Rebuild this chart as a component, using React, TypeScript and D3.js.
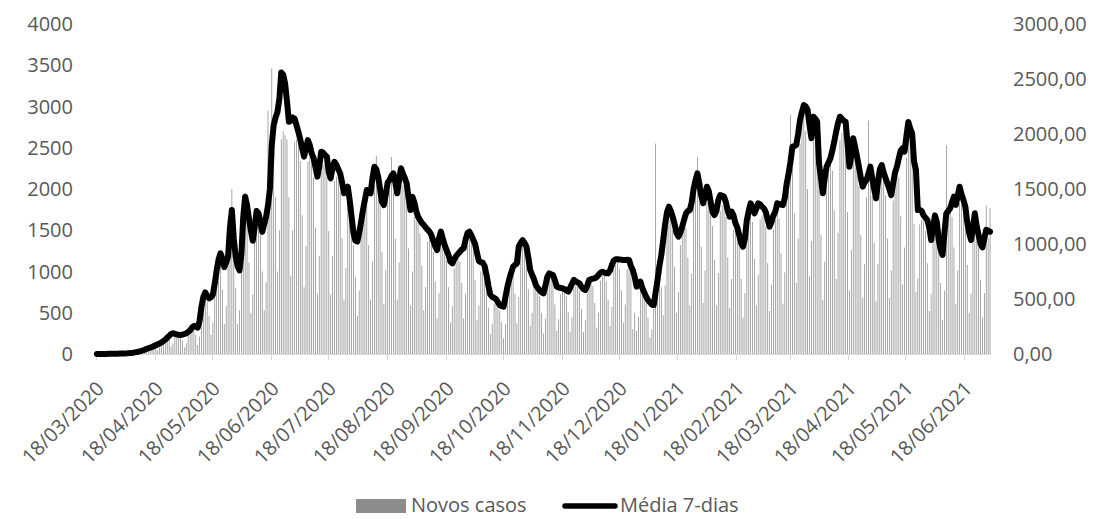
import React from "react";
import * as d3 from "d3";

// Daily series, one value per day starting on the first date below
const START_DATE = new Date(2020, 2, 18);

const newCases = [
  0, 1, 1, 2, 0, 1, 3, 3, 4, 2,
  2, 1, 3, 5, 6, 8, 5, 4, 9, 15,
  18, 22, 29, 31, 29, 17, 32, 62, 72, 83,
  110, 90, 45, 80, 150, 190, 230, 210, 170, 90,
  130, 220, 230, 230, 210, 160, 80, 130, 240, 270,
  310, 300, 230, 110, 210, 520, 650, 730, 640, 460,
  230, 380, 770, 950, 1120, 1100, 780, 360, 580, 1060,
  1440, 2000, 1260, 800, 360, 530, 1080, 1560, 1950, 1620,
  1110, 500, 720, 1380, 1630, 1660, 1440, 1000, 530, 870,
  2950, 1800, 3460, 2500, 1900, 1000, 1500, 2600, 2700, 2650,
  2600, 1900, 950, 1500, 2570, 2600, 2630, 2340, 1680, 810,
  1310, 2330, 2380, 2370, 2140, 1530, 730, 1190, 2210, 2290,
  2350, 2150, 1490, 720, 1190, 2100, 2150, 2180, 1970, 1400,
  660, 1040, 1830, 1750, 1630, 1320, 930, 460, 770, 1440,
  1640, 1820, 1790, 1320, 660, 1120, 2040, 2400, 2100, 1800,
  1240, 610, 1020, 1870, 1980, 2390, 1970, 1400, 660, 1110,
  2030, 2050, 2080, 1860, 1280, 590, 1000, 1660, 1630, 1620,
  1460, 1070, 530, 810, 1360, 1390, 1400, 1240, 880, 430,
  740, 1330, 1310, 1290, 1130, 810, 380, 580, 1030, 1110,
  1180, 1120, 860, 430, 730, 1320, 1390, 1400, 1250, 900,
  410, 590, 1000, 1040, 1040, 860, 560, 240, 360, 610,
  630, 610, 530, 390, 190, 360, 730, 850, 960, 950,
  730, 370, 690, 1210, 1300, 1310, 1170, 790, 340, 500,
  820, 780, 780, 700, 500, 250, 430, 840, 920, 940,
  860, 600, 280, 420, 720, 750, 770, 700, 510, 270,
  450, 810, 830, 850, 770, 550, 270, 410, 740, 840,
  880, 820, 620, 320, 500, 890, 940, 960, 880, 660,
  340, 570, 1020, 1080, 1120, 1030, 770, 380, 600, 1030,
  1070, 1040, 300, 500, 280, 450, 790, 750, 730, 620,
  440, 200, 300, 550, 2550, 880, 960, 810, 470, 830,
  1550, 1670, 1690, 1500, 1060, 500, 750, 1320, 1450, 1590,
  1530, 1170, 590, 970, 1800, 1980, 2390, 1860, 1300, 620,
  1010, 1830, 1850, 1790, 1550, 1140, 590, 980, 1730, 1800,
  1860, 1660, 1170, 560, 910, 1510, 1490, 1500, 1300, 910,
  440, 740, 1460, 1630, 1780, 1600, 1150, 590, 960, 1630,
  1680, 1720, 1550, 1100, 520, 840, 1510, 1620, 1780, 1640,
  1220, 610, 990, 1860, 2050, 2900, 2260, 1700, 860, 1400,
  2550, 2750, 2900, 2700, 2000, 940, 1370, 2590, 2680, 2750,
  2080, 1440, 660, 1120, 2040, 2180, 2310, 2220, 1740, 910,
  1470, 2590, 2680, 2760, 2530, 1720, 770, 1260, 2350, 2350,
  2330, 2040, 1440, 680, 1090, 1900, 2830, 2210, 1920, 1350,
  640, 1090, 2020, 2150, 2150, 1920, 1400, 680, 1010, 1860,
  2060, 2210, 2140, 1670, 840, 1290, 2380, 2640, 2670, 2410,
  1580, 750, 920, 1570, 1630, 1640, 1490, 1100, 520, 730,
  1380, 1580, 1560, 1240, 860, 410, 770, 2530, 1630, 1720,
  1660, 1290, 610, 1010, 1830, 1810, 1820, 1610, 1080, 500,
  730, 1380, 1600, 1500, 1300, 900, 440, 740, 1800, 1400,
  1770,
];

const avg7 = [
  0, 0, 0, 1, 1, 1, 2, 2, 2, 3,
  3, 3, 4, 4, 5, 5, 6, 8, 10, 12,
  15, 18, 22, 26, 32, 38, 45, 52, 58, 64,
  72, 80, 88, 96, 106, 118, 132, 148, 165, 182,
  188, 184, 178, 174, 173, 176, 182, 188, 200, 215,
  240, 255, 250, 240, 300, 430, 520, 560, 530, 506,
  515, 540, 640, 760, 860, 915, 870, 790, 830, 885,
  1150, 1309, 1050, 885, 800, 760, 900, 1250, 1430, 1350,
  1230, 1120, 1030, 1150, 1300, 1280, 1200, 1110, 1180, 1248,
  1350, 1500, 1900, 2080, 2150, 2200, 2320, 2560, 2540, 2460,
  2300, 2112, 2120, 2150, 2140, 2080, 2020, 1950, 1870, 1794,
  1870, 1945, 1900, 1824, 1780, 1700, 1612, 1700, 1839, 1830,
  1810, 1794, 1650, 1597, 1700, 1748, 1720, 1680, 1642, 1560,
  1461, 1480, 1521, 1400, 1250, 1100, 1030, 1021, 1100, 1200,
  1309, 1400, 1491, 1470, 1461, 1600, 1703, 1680, 1612, 1500,
  1380, 1354, 1450, 1560, 1582, 1620, 1642, 1560, 1461, 1580,
  1688, 1640, 1600, 1551, 1420, 1309, 1430, 1380, 1300, 1248,
  1220, 1190, 1173, 1150, 1130, 1112, 1080, 1030, 980, 945,
  1050, 1112, 1050, 990, 945, 900, 840, 824, 860, 890,
  910, 930, 950, 961, 1040, 1100, 1112, 1080, 1040, 1000,
  920, 845, 835, 830, 800, 720, 620, 540, 520, 510,
  500, 470, 445, 435, 430, 520, 612, 680, 740, 794,
  810, 824, 980, 1010, 1036, 1010, 976, 880, 764, 720,
  680, 627, 600, 580, 560, 551, 620, 700, 733, 725,
  718, 670, 612, 605, 600, 597, 590, 580, 567, 600,
  640, 673, 660, 650, 642, 610, 590, 582, 620, 673,
  680, 685, 688, 700, 720, 740, 748, 740, 735, 733,
  760, 810, 850, 861, 862, 860, 858, 855, 855, 856,
  855, 800, 764, 700, 612, 640, 657, 600, 560, 521,
  490, 470, 450, 445, 560, 673, 800, 900, 1036, 1180,
  1290, 1339, 1300, 1248, 1180, 1100, 1066, 1100, 1157, 1220,
  1279, 1300, 1309, 1380, 1500, 1580, 1642, 1550, 1440, 1370,
  1440, 1521, 1480, 1380, 1290, 1263, 1300, 1400, 1445, 1440,
  1430, 1380, 1300, 1248, 1294, 1260, 1188, 1150, 1080, 1006,
  976, 1050, 1218, 1300, 1370, 1330, 1279, 1320, 1370, 1360,
  1340, 1324, 1290, 1220, 1157, 1200, 1260, 1294, 1370, 1365,
  1358, 1354, 1420, 1550, 1642, 1750, 1885, 1890, 1900, 2000,
  2127, 2200, 2263, 2250, 2218, 2080, 1961, 2157, 2140, 2112,
  1733, 1600, 1461, 1600, 1703, 1740, 1779, 1850, 1930, 2020,
  2100, 2157, 2140, 2120, 2112, 1915, 1703, 1800, 1961, 1880,
  1794, 1700, 1600, 1521, 1560, 1582, 1640, 1703, 1600, 1500,
  1415, 1560, 1680, 1718, 1650, 1600, 1551, 1500, 1445, 1550,
  1650, 1703, 1780, 1850, 1870, 1839, 1980, 2110, 2050, 2006,
  1750, 1673, 1309, 1310, 1300, 1260, 1240, 1218, 1150, 1036,
  1150, 1260, 1200, 1036, 950, 900, 1100, 1279, 1300, 1324,
  1380, 1430, 1355, 1440, 1521, 1450, 1400, 1339, 1200, 1100,
  1036, 1150, 1279, 1157, 1080, 1000, 970, 1050, 1130, 1120,
  1112,
];

const leftTicks = [0, 500, 1000, 1500, 2000, 2500, 3000, 3500, 4000];
const rightTicks = [0, 500, 1000, 1500, 2000, 2500, 3000];
const xTickLabels = [
  "18/03/2020", "18/04/2020", "18/05/2020", "18/06/2020", "18/07/2020",
  "18/08/2020", "18/09/2020", "18/10/2020", "18/11/2020", "18/12/2020",
  "18/01/2021", "18/02/2021", "18/03/2021", "18/04/2021", "18/05/2021",
  "18/06/2021",
];
const legendLabels = ["Novos casos", "Média 7-dias"];

const W = 1095;
const H = 519;
const plot = { left: 96, right: 991, top: 24, bottom: 354 };
const FONT = "'Open Sans', sans-serif";
const TEXT = "#595959";
const BAR = "#8c8c8c";
const LEGEND_Y = 505;

const parseLabel = d3.timeParse("%d/%m/%Y");

export default function App() {
  const dates = newCases.map((_, i) => d3.timeDay.offset(START_DATE, i));
  const endDate = d3.timeDay.offset(START_DATE, newCases.length);

  const x = d3.scaleTime().domain([START_DATE, endDate]).range([plot.left, plot.right]);
  const day = x(d3.timeDay.offset(START_DATE, 1)) - x(START_DATE);
  const barW = day / 2.5;

  const yL = d3.scaleLinear().domain([0, 4000]).range([plot.bottom, plot.top]);
  const yR = d3.scaleLinear().domain([0, 3000]).range([plot.bottom, plot.top]);

  const line = d3
    .line<number>()
    .x((_, i) => x(dates[i]) + day / 2)
    .y((v) => yR(v));

  const fmtRight = (v: number) => d3.format(".2f")(v).replace(".", ",");

  return (
    <svg
      width={W}
      height={H}
      style={{ position: "absolute", left: 0, top: 0, background: "#fff" }}
      fontFamily={FONT}
    >
      {/* daily bars */}
      <g fill={BAR}>
        {newCases.map((v, i) => (
          <rect
            key={i}
            x={x(dates[i]) + day / 2 - barW / 2}
            y={yL(v)}
            width={barW}
            height={plot.bottom - yL(v)}
          />
        ))}
      </g>

      {/* x axis */}
      <line x1={plot.left} x2={plot.right} y1={plot.bottom + 0.5} y2={plot.bottom + 0.5} stroke="#d9d9d9" />
      {xTickLabels.map((lab) => {
        const tx = Math.round(x(parseLabel(lab) as Date)) + 0.5;
        return (
          <g key={lab}>
            <line x1={tx} x2={tx} y1={plot.bottom} y2={plot.bottom + 6} stroke="#d9d9d9" />
            <text
              transform={`translate(${tx + 4},${plot.bottom + 31}) rotate(-45)`}
              textAnchor="end"
              dy="0.35em"
              fontSize={20}
              fill={TEXT}
            >
              {lab}
            </text>
          </g>
        );
      })}

      {/* 7-day average */}
      <path
        d={line(avg7) || ""}
        fill="none"
        stroke="#000"
        strokeWidth={6}
        strokeLinejoin="round"
        strokeLinecap="round"
      />

      {/* left axis labels */}
      {leftTicks.map((t) => (
        <text key={t} x={73} y={yL(t)} dy="0.35em" textAnchor="end" fontSize={20} fill={TEXT}>
          {t}
        </text>
      ))}

      {/* right axis labels */}
      {rightTicks.map((t) => (
        <text key={t} x={1013} y={yR(t)} dy="0.35em" textAnchor="start" fontSize={20} fill={TEXT}>
          {fmtRight(t)}
        </text>
      ))}

      {/* legend */}
      <rect x={356} y={LEGEND_Y - 6} width={50} height={14} fill={BAR} />
      <text x={411} y={LEGEND_Y} dy="0.35em" fontSize={20} fill={TEXT}>
        {legendLabels[0]}
      </text>
      <line x1={565} x2={615} y1={LEGEND_Y + 1} y2={LEGEND_Y + 1} stroke="#000" strokeWidth={5.5} strokeLinecap="round" />
      <text x={620} y={LEGEND_Y} dy="0.35em" fontSize={20} fill={TEXT}>
        {legendLabels[1]}
      </text>
    </svg>
  );
}
